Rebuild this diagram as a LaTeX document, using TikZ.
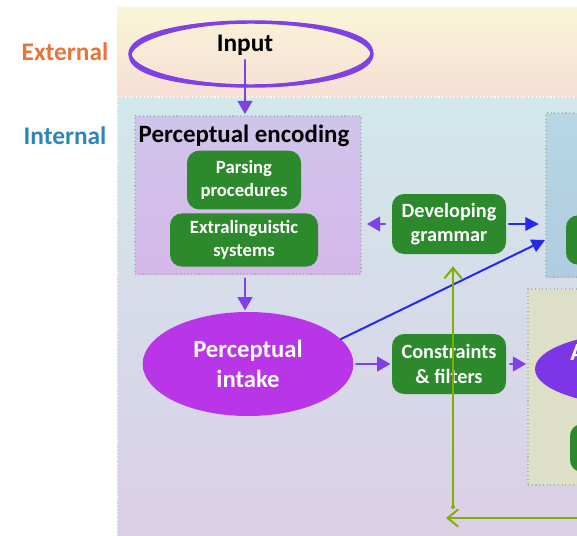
\documentclass[tikz,border=0pt]{standalone}
\usepackage{fontspec}
\setmainfont{Carlito}
\usetikzlibrary{arrows.meta}
\usetikzlibrary{shapes.geometric}
\usetikzlibrary{calc}

\definecolor{extorange}{RGB}{232,117,53}
\definecolor{intblue}{RGB}{46,134,184}
\definecolor{boxgreen}{RGB}{44,138,44}
\definecolor{arrowpurple}{RGB}{128,64,232}
\definecolor{intakepurple}{RGB}{185,53,232}
\definecolor{outpurple}{RGB}{125,53,232}
\definecolor{linkblue}{RGB}{40,40,240}
\definecolor{loopgreen}{RGB}{127,176,0}
\definecolor{dotgray}{RGB}{168,184,184}

\tikzset{
    region/.style={draw=white, dotted, line width=0.8pt},
    panel/.style={draw=dotgray, dotted, line width=0.8pt, inner sep=0pt},
    greenbox/.style={fill=boxgreen, draw=none, rounded corners=9pt,
        text=white, align=center, font=\fontsize{14}{17}\selectfont\bfseries, inner sep=0pt},
    blob/.style={ellipse, draw=none, text=white, align=center,
        font=\fontsize{18.5}{23}\selectfont\bfseries, inner sep=0pt},
    sidelabel/.style={font=\fontsize{19}{22}\selectfont\bfseries},
    purplearrow/.style={draw=arrowpurple, line width=1.8pt, line cap=round,
        -{Triangle[length=10pt,width=11pt]}},
    bluearrow/.style={draw=linkblue, line width=1.5pt, line cap=round,
        -{Triangle[length=10pt,width=10pt]}},
    greenarrow/.style={draw=loopgreen, line width=1.5pt,
        -{Straight Barb[length=8pt,width=13pt,line width=1.5pt]}},
}

\begin{document}
\begin{tikzpicture}[x=0.75pt,y=-0.75pt]
    \useasboundingbox (0,0) rectangle (577,535);
    \clip (0,0) rectangle (577,535);

    % Regions
    \fill[top color={rgb,255:red,248;green,246;blue,214},
          bottom color={rgb,255:red,247;green,222;blue,214}] (117,8) rectangle (590,96);
    \path[region, top color={rgb,255:red,210;green,232;blue,234},
          bottom color={rgb,255:red,219;green,206;blue,232}] (117,97) rectangle (590,545);

    % Side labels
    \node[sidelabel, text=extorange] (external) at (65,52) {External};
    \node[sidelabel, text=intblue] (internal) at (65,136) {Internal};

    % Panels
    \node[panel, top color={rgb,255:red,207;green,197;blue,234},
          bottom color={rgb,255:red,213;green,184;blue,232},
          minimum width=169.5pt, minimum height=118.5pt] (encoding) at (248,195) {};
    \node[panel, top color={rgb,255:red,184;green,214;blue,228},
          bottom color={rgb,255:red,176;green,204;blue,224},
          minimum width=75pt, minimum height=123pt] (knowledge) at (596,195) {};
    \node[panel, fill={rgb,255:red,221;green,223;blue,198},
          minimum width=97.5pt, minimum height=147pt] (outbox) at (593,387) {};

    % Input
    \foreach \r/\w in {0/2.6pt, 1.5/1.4pt, -1/1.2pt}
        \draw[arrowpurple, line width=\w, rotate around={\r:(251,54)}] (251,54) ellipse [x radius=121, y radius=32];
    \node[font=\fontsize{19}{22}\selectfont\bfseries] (input) at (245,45) {Input};

    % Nodes
    \node[font=\fontsize{18.7}{22}\selectfont\bfseries] (encodingtitle) at (244,136) {Perceptual encoding};
    \node[greenbox, minimum width=85.5pt, minimum height=44pt] (parsing) at (244,180) {Parsing\\procedures};
    \node[greenbox, minimum width=111pt, minimum height=40pt] (extra) at (244,240) {Extralinguistic\\systems};
    \node[greenbox, font=\fontsize{15.2}{18.5}\selectfont\bfseries,
          minimum width=85.5pt, minimum height=45pt] (grammar) at (449,224) {Developing\\grammar};
    \node[greenbox, font=\fontsize{15.2}{18.5}\selectfont\bfseries,
          minimum width=85.5pt, minimum height=45pt] (constraints) at (449,364) {Constraints\\\& filters};
    \node[blob, fill=intakepurple, minimum width=158pt, minimum height=78pt] (intake) at (248,364) {Perceptual\\intake};
    \node[ellipse, fill=outpurple, minimum width=165pt, minimum height=56pt] (output) at (645,369) {};
    \node[font=\fontsize{18.5}{23}\selectfont\bfseries, text=white, anchor=west, inner sep=0pt] (outtext) at (570,352) {A};
    \node[greenbox, minimum width=90pt, minimum height=37pt] (knowbox) at (626,240) {};
    \node[greenbox, minimum width=90pt, minimum height=36pt] (outgreen) at (630,448) {};

    \coordinate (knowin) at (545,240);
    \coordinate (loopstart) at (453,507);
    \coordinate (loopfrom) at (590,518);
    \coordinate (loopto) at (446,518);

    % Connection
    \draw[purplearrow, shorten >=1pt] (input.south) -- (input.south |- encoding.north);
    \draw[purplearrow, shorten <=5pt, shorten >=4pt] (grammar.west) -- (grammar.west -| encoding.east);
    \draw[bluearrow, shorten <=2pt, shorten >=5pt] (grammar.east) -- (grammar.east -| knowledge.west);
    \draw[purplearrow, shorten <=3pt, shorten >=1pt] (encoding.south -| input.south) -- (intake.north -| input.south);
    \draw[bluearrow] (intake.15) -- (knowin);
    \draw[purplearrow, shorten <=2pt, shorten >=1pt] (intake.east) -- (constraints.west);
    \draw[purplearrow, shorten <=3pt, shorten >=1pt] (constraints.east) -- (constraints.east -| outbox.west);
    \draw[greenarrow, shorten >=9pt] (loopstart) -- (loopstart |- grammar.south);
    \fill[loopgreen] (loopstart) circle (2);
    \draw[greenarrow] (loopfrom) -- (loopto);
\end{tikzpicture}
\end{document}
